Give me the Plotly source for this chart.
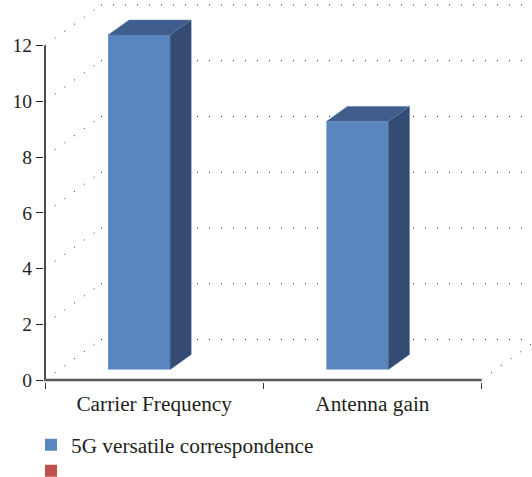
import plotly.graph_objects as go

categories = ["Carrier Frequency", "Antenna gain"]
series_name = "5G versatile correspondence"
values = [12, 8.9]
empty_series = [0, 0]
y_ticks = [0, 2, 4, 6, 8, 10, 12]

W, H = 532, 477
L, B = 44, 95
px_y = 334.5 / 12
px_x = 436.5 / 2
wall_dx, wall_dy = 56 / px_x, 40.5 / px_y
bar_w, bar_off = 62 / px_x, -46 / px_x
lift = 10.5 / px_y
dep_x, dep_y = 21 / px_x, 15 / px_y
centers = [i + 0.5 for i in range(len(categories))]

fig = go.Figure()
dots = dict(color="#222222", width=1, dash="1px,11px")


def grid(xs, ys):
    fig.add_trace(go.Scatter(x=xs, y=ys, mode="lines", line=dots, showlegend=False,
                             hoverinfo="skip", zorder=0))


for t in y_ticks:
    grid([0, wall_dx], [t, t + wall_dy])
    grid([wall_dx, 2 + wall_dx], [t + wall_dy, t + wall_dy])
grid([2, 2 + wall_dx], [0, wall_dy])

fig.add_trace(go.Bar(x=centers, y=values, base=lift, width=bar_w, offset=bar_off,
                     name=series_name, marker=dict(color="#5a86c0", line=dict(width=0)), zorder=1))
fig.add_trace(go.Bar(x=centers, y=empty_series, width=bar_w, name=" ", legend="legend2",
                     marker=dict(color="#c0504d", line=dict(width=0)), zorder=1))

for c, v in zip(centers, values):
    x0, x1 = c + bar_off, c + bar_off + bar_w
    top = v + lift
    fig.add_trace(go.Scatter(x=[x1, x1 + dep_x, x1 + dep_x, x1, x1], y=[lift, lift + dep_y, top + dep_y, top, lift],
                             mode="lines", fill="toself", fillcolor="#344b73", line=dict(color="#3f5a86", width=0.5),
                             showlegend=False, hoverinfo="skip", zorder=2))
    fig.add_trace(go.Scatter(x=[x0, x1, x1 + dep_x, x0 + dep_x, x0], y=[top, top, top + dep_y, top + dep_y, top],
                             mode="lines", fill="toself", fillcolor="#3f5e8d", line=dict(color="#5c7cab", width=0.5),
                             showlegend=False, hoverinfo="skip", zorder=2))

# axis lines stop at the last tick while the plot area runs on to hold the back wall
fig.add_trace(go.Scatter(x=[0, 0], y=[y_ticks[0], y_ticks[-1]], mode="lines", line=dict(color="#111111", width=1.5),
                         showlegend=False, hoverinfo="skip", zorder=3))
fig.add_trace(go.Scatter(x=[-1 / px_x, 2], y=[0, 0], mode="lines", line=dict(color="#595959", width=2.5),
                         showlegend=False, hoverinfo="skip", zorder=3))

font = dict(family="Liberation Serif", size=21.3, color="#231f20")
legend_style = dict(xanchor="left", yanchor="middle", xref="container", yref="container",
                    bgcolor="rgba(0,0,0,0)", font=font)
fig.update_layout(
    width=W, height=H, autosize=False,
    margin=dict(l=L, r=0, t=0, b=B, pad=0, autoexpand=False),
    paper_bgcolor="white", plot_bgcolor="white", font=font,
    barmode="overlay",
    xaxis=dict(range=[-1 / px_x, (W - 45) / px_x], tickmode="array", tickvals=centers, ticktext=categories, tickangle=0,
               ticks="outside", ticklen=2, tickcolor="rgba(0,0,0,0)", showgrid=False, zeroline=False,
               showline=False,
               minor=dict(tickmode="array", tickvals=[0, 1, 2], ticks="outside", ticklen=6,
                          tickcolor="#333333", tickwidth=1.2, showgrid=False)),
    yaxis=dict(range=[-2 / px_y, 380 / px_y], tickmode="array", tickvals=y_ticks, ticks="outside", ticklen=7,
               tickcolor="#222222", tickwidth=1.2, showgrid=False, zeroline=False, showline=False,
               tickfont=dict(size=19.5)),
    legend=dict(x=31 / W, y=1 - 445 / H, **legend_style),
    legend2=dict(x=31 / W, y=1 - 471 / H, **legend_style),
)
fig.write_html("out.html", config={"displayModeBar": False}, post_script="document.body.style.margin='0';")
